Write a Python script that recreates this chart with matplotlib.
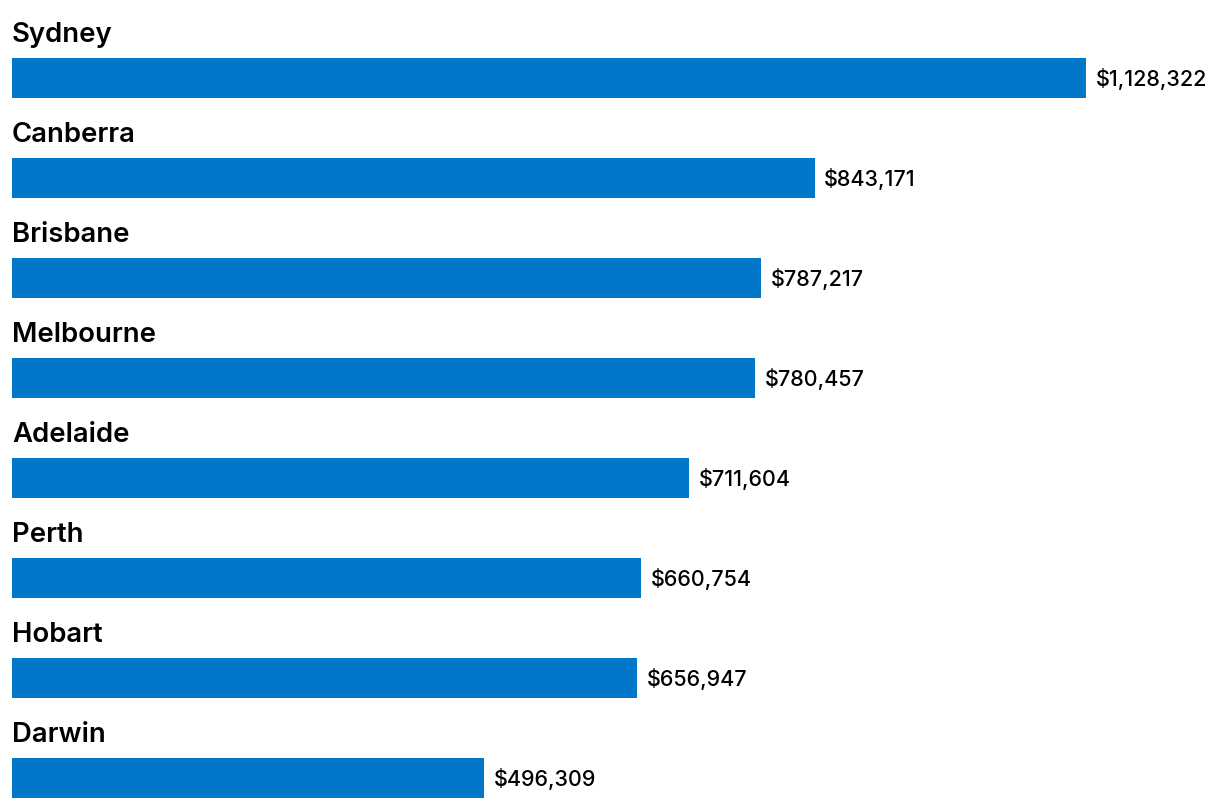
import matplotlib.pyplot as plt

# median house prices by capital city
cities = ["Sydney", "Canberra", "Brisbane", "Melbourne", "Adelaide", "Perth", "Hobart", "Darwin"]
prices = [1128322, 843171, 787217, 780457, 711604, 660754, 656947, 496309]
price_labels = ["$1,128,322", "$843,171", "$787,217", "$780,457", "$711,604", "$660,754", "$656,947", "$496,309"]

plt.rcParams['font.family'] = ['Inter', 'DejaVu Sans']

fig = plt.figure(figsize=(12.2, 8.08), dpi=100)
ax = fig.add_axes([12/1220, 0, 1208/1220, 1])

pos = list(range(len(cities)))
ax.barh(pos, prices, height=0.4, color="#0077C8")

for i in pos:
    ax.text(0, i - 0.43, cities[i], fontsize=19.8, fontweight="semibold",
            color="#000000", va="center", ha="left")
    ax.text(prices[i] + 10000, i + 0.005, price_labels[i], fontsize=15.5,
            fontweight="medium", color="#000000", va="center", ha="left")

ax.set_xlim(0, 1128322 * 1208 / 1074)
ax.set_ylim(7.3, -0.78)
ax.axis("off")

plt.savefig("out.png", dpi=100)
